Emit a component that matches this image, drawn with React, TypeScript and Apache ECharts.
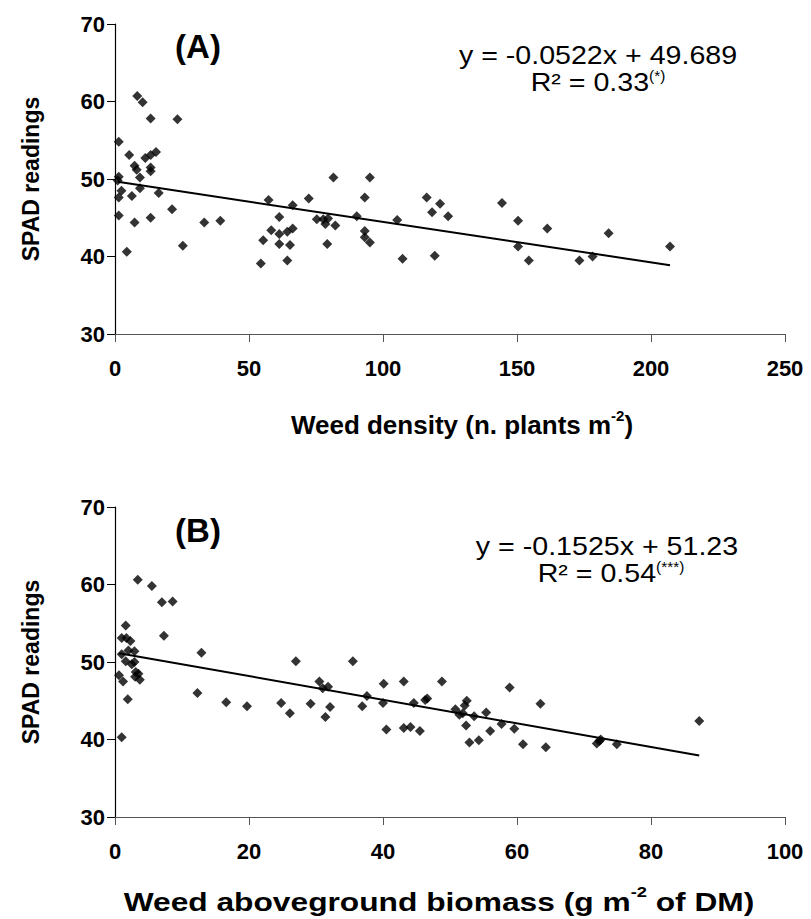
import React, { useEffect, useRef } from "react";
import * as echarts from "echarts";

// Panel A: weed density vs SPAD
const densityX = [8.3, 10.3, 13.3, 23.3, 1.4, 5.3, 11.3, 13.3, 15.3, 7.3, 8.1, 13.3, 13.3, 9.3, 1.4, 1.0, 2.4, 1.4, 6.3, 9.3, 16.3, 1.4, 7.3, 13.3, 21.3, 4.4, 25.3, 33.3, 39.3, 57.3, 66.3, 72.3, 61.3, 58.3, 61.3, 64.3, 66.3, 55.3, 61.3, 65.3, 54.4, 64.3, 75.3, 77.7, 78.5, 79.5, 82.2, 81.5, 79.2, 90.2, 95.1, 93.2, 93.2, 93.2, 95.1, 105.3, 107.3, 116.3, 121.3, 118.3, 124.3, 119.3, 144.4, 150.4, 161.3, 150.4, 154.4, 173.3, 178.2, 184.2, 207.1];
const densitySpad = [60.7, 59.9, 57.8, 57.7, 54.8, 53.1, 52.7, 53.1, 53.5, 51.7, 51.2, 51.5, 51.0, 50.2, 50.3, 49.8, 48.5, 47.6, 47.8, 48.8, 48.2, 45.3, 44.4, 45.0, 46.1, 40.6, 41.4, 44.4, 44.6, 47.3, 46.6, 47.5, 45.1, 43.4, 42.9, 43.2, 43.6, 42.1, 41.6, 41.5, 39.1, 39.5, 44.8, 44.8, 44.2, 44.9, 44.0, 50.2, 41.6, 45.2, 50.2, 47.6, 43.3, 42.5, 41.8, 44.7, 39.7, 47.6, 46.8, 45.7, 45.2, 40.1, 46.9, 44.6, 43.6, 41.3, 39.5, 39.5, 40.0, 43.0, 41.3];

// Panel B: weed aboveground biomass vs SPAD
const biomassX = [3.4, 5.5, 7.0, 8.6, 1.6, 1.0, 1.7, 2.3, 7.3, 2.0, 2.9, 1.0, 1.6, 2.5, 2.9, 3.1, 3.5, 3.0, 3.7, 0.6, 1.2, 1.9, 1.0, 12.9, 12.3, 16.6, 19.7, 27.0, 24.8, 26.1, 29.2, 30.5, 31.0, 31.8, 32.1, 31.4, 35.5, 37.6, 36.9, 40.1, 40.0, 40.5, 43.1, 44.6, 43.1, 44.1, 45.5, 46.3, 46.6, 48.8, 50.8, 51.4, 51.9, 52.2, 52.5, 52.4, 53.6, 52.9, 54.3, 55.4, 56.0, 57.7, 58.9, 59.6, 60.9, 63.5, 64.3, 71.9, 72.3, 72.5, 74.9, 87.2];
const biomassSpad = [60.6, 59.8, 57.7, 57.8, 54.7, 53.1, 53.1, 52.7, 53.4, 51.5, 51.4, 51.0, 50.1, 49.7, 50.0, 48.7, 48.5, 48.1, 47.7, 48.3, 47.5, 45.2, 40.3, 51.2, 46.0, 44.8, 44.3, 50.1, 44.7, 43.4, 44.6, 47.5, 46.6, 46.8, 44.2, 42.9, 50.1, 45.6, 44.3, 47.2, 44.7, 41.3, 47.5, 44.7, 41.5, 41.6, 41.1, 45.1, 45.3, 47.5, 43.9, 43.2, 43.4, 44.4, 45.0, 41.8, 43.0, 39.6, 39.9, 43.5, 41.1, 42.0, 46.7, 41.4, 39.4, 44.6, 39.0, 39.5, 39.8, 40.0, 39.4, 42.4];

// Regression coefficients (slope, intercept)
const fitA = [-0.0522, 49.689];
const fitB = [-0.1525, 51.23];

const yTicks = [30, 40, 50, 60, 70];
const xTicksA = [0, 50, 100, 150, 200, 250];
const xTicksB = [0, 20, 40, 60, 80, 100];

const FONT = "'Liberation Sans', Arial, Helvetica, sans-serif";

function fitLine(xs: number[], fit: number[]) {
  const lo = Math.min(...xs);
  const hi = Math.max(...xs);
  return [
    [lo, fit[0] * lo + fit[1]],
    [hi, fit[0] * hi + fit[1]],
  ];
}

export default function App() {
  const ref = useRef<HTMLDivElement>(null);
  useEffect(() => {
    if (!ref.current) return;
    const chart = echarts.init(ref.current, null, { renderer: "svg" });
    const axisLabel = { fontFamily: FONT, fontWeight: "bold", fontSize: 22, color: "#000" };
    const titleRich = {
      a: { fontFamily: FONT, fontWeight: "bold", fontSize: 26, color: "#000", fill: "#000", verticalAlign: "bottom", lineHeight: 30 },
      s: { fontFamily: FONT, fontWeight: "bold", fontSize: 15, color: "#000", fill: "#000", verticalAlign: "top", lineHeight: 30 },
    };
    const mkX = (idx: number, ticks: number[], name: string, gap: number) => ({
      type: "value",
      gridIndex: idx,
      min: ticks[0],
      max: ticks[ticks.length - 1],
      interval: ticks[1] - ticks[0],
      axisLine: { show: true, onZero: false, lineStyle: { color: "#555", width: 1.2 } },
      axisTick: { show: true, inside: false, length: 8, lineStyle: { color: "#555" } },
      splitLine: { show: false },
      axisLabel: { ...axisLabel, margin: 23 },
      name,
      nameLocation: "middle",
      nameGap: gap,
      nameTextStyle: {
        fontFamily: FONT,
        fontWeight: "bold",
        fontSize: 26,
        color: "#000",
        padding: [0, 0, 0, 24],
        rich: titleRich,
      },
    });
    const mkY = (idx: number) => ({
      type: "value",
      gridIndex: idx,
      min: yTicks[0],
      max: yTicks[yTicks.length - 1],
      interval: yTicks[1] - yTicks[0],
      axisLine: { show: true, onZero: false, lineStyle: { color: "#000", width: 1.2 } },
      axisTick: { show: true, inside: false, length: 8, lineStyle: { color: "#000" } },
      splitLine: { show: false },
      axisLabel: { ...axisLabel, margin: 10 },
      name: "SPAD readings",
      nameLocation: "middle",
      nameGap: 73,
      nameRotate: 90,
      nameTextStyle: { fontFamily: FONT, fontWeight: "bold", fontSize: 23, color: "#000" },
    });
    const scatter = (idx: number, xs: number[], ys: number[]) => ({
      type: "scatter",
      xAxisIndex: idx,
      yAxisIndex: idx,
      symbol: "diamond",
      symbolSize: 10,
      itemStyle: { color: "#000" },
      data: xs.map((x, i) => [x, ys[i]]),
      z: 3,
    });
    const line = (idx: number, xs: number[], fit: number[]) => ({
      type: "line",
      xAxisIndex: idx,
      yAxisIndex: idx,
      showSymbol: false,
      symbol: "none",
      lineStyle: { color: "#000", width: 2 },
      data: fitLine(xs, fit),
      z: 2,
    });
    const eqText = (x: number, y: number, text: string) => ({
      type: "text",
      x,
      y,
      scaleX: 1.1,
      style: { text, fontFamily: FONT, fontSize: 26, fill: "#000", align: "center", verticalAlign: "middle" },
    });
    const r2Text = (x: number, y: number, val: string, star: string) => ({
      type: "text",
      x,
      y,
      scaleX: 1.1,
      style: {
        text: `{a|R² = ${val}}{t|(${star})}`,
        align: "center",
        verticalAlign: "middle",
        rich: {
          a: { fontFamily: FONT, fontSize: 26, fill: "#000", verticalAlign: "bottom", lineHeight: 26 },
          t: { fontFamily: FONT, fontSize: 14, fill: "#000", verticalAlign: "top", lineHeight: 14 },
        },
      },
    });
    const panelLabel = (x: number, y: number, text: string) => ({
      type: "text",
      x,
      y,
      style: { text, fontFamily: FONT, fontWeight: "bold", fontSize: 33, fill: "#000", align: "center", verticalAlign: "middle" },
    });
    chart.setOption({
      animation: false,
      backgroundColor: "#fff",
      grid: [
        { left: 115, top: 24, width: 670, height: 310 },
        { left: 115, top: 507, width: 670, height: 310 },
      ],
      xAxis: [
        mkX(0, xTicksA, "{a|Weed density (n. plants m}{s|-2}{a|)}", 74),
        { ...mkX(1, xTicksB, "", 0), name: "" },
      ],
      yAxis: [mkY(0), mkY(1)],
      series: [
        line(0, densityX, fitA),
        scatter(0, densityX, densitySpad),
        line(1, biomassX, fitB),
        scatter(1, biomassX, biomassSpad),
      ],
      graphic: [
        panelLabel(198, 46, "(A)"),
        panelLabel(198, 530, "(B)"),
        eqText(598, 55, "y = -0.0522x + 49.689"),
        r2Text(598, 82, "0.33", "*"),
        eqText(607, 546, "y = -0.1525x + 51.23"),
        r2Text(611, 573, "0.54", "***"),
        {
          type: "text",
          x: 439,
          y: 900,
          scaleX: 1.22,
          style: {
            text: "{a|Weed aboveground biomass (g m}{s|-2}{a| of DM)}",
            align: "center",
            verticalAlign: "middle",
            rich: titleRich,
          },
        },
      ],
    });
    return () => chart.dispose();
  }, []);
  return <div ref={ref} style={{ position: "fixed", left: 0, top: 0, width: 811, height: 919, background: "#fff" }} />;
}
